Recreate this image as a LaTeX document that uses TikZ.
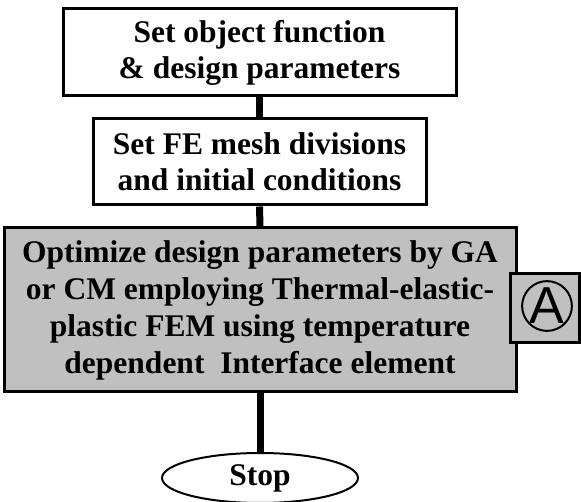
\documentclass[tikz,border=0pt]{standalone}
\usepackage{fontspec}
\setmainfont{Liberation Serif}
\newfontfamily\sansA{Liberation Sans}
\usetikzlibrary{shapes.geometric}
\definecolor{boxgray}{RGB}{192,192,192}
\begin{document}
\begin{tikzpicture}[x=1pt,y=-1pt,
  box/.style={draw, line width=3pt, inner sep=0pt, align=center,
    font=\bfseries\fontsize{31.5}{36}\selectfont},
  stem/.style={line width=7pt},
]
\useasboundingbox (0,0) rectangle (581,502);
\node[box, minimum width=393pt, minimum height=87pt] (b1) at (259.5,52.5)
  {Set object function\\\& design parameters};
\node[box, minimum width=333pt, minimum height=86pt] (b2) at (259.5,162)
  {Set FE mesh divisions\\and initial conditions};
\node[box, fill=boxgray, minimum width=512pt, minimum height=164pt,
  font=\bfseries\fontsize{31.5}{37}\selectfont] (b3) at (260,310)
  {Optimize design parameters by GA\\or CM employing Thermal-elastic-\\plastic FEM using temperature\\dependent\ \ Interface element};
\node[draw, fill=boxgray, line width=3pt, minimum width=69.5pt, minimum height=69pt, inner sep=0pt] (abox) at (544.75,308.5) {};
\node[draw, circle, line width=2pt, minimum size=48pt, inner sep=0pt,
  font=\sansA\fontsize{52}{52}\selectfont] (acirc) at (547,306) {\raisebox{-1.5pt}{A}};
\node[draw, ellipse, line width=2pt, minimum width=196pt, minimum height=50pt, inner sep=0pt,
  font=\bfseries\fontsize{31.5}{36}\selectfont] (stop) at (260,478) {Stop};
\draw[stem] (b1.south) -- (b2.north);
\draw[stem] (b2.south) -- (b3.north);
\draw[stem] (b3.south) -- (stop.north);
\end{tikzpicture}
\end{document}
